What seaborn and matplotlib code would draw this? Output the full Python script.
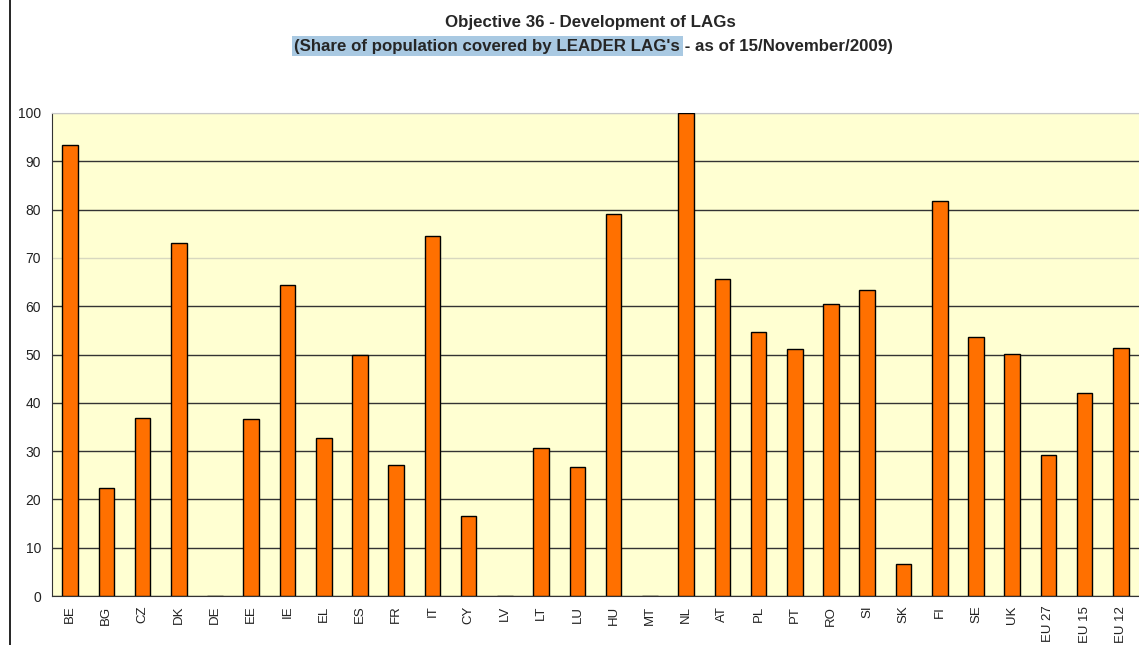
import matplotlib
matplotlib.use("Agg")
import matplotlib.pyplot as plt
import matplotlib.lines as mlines
import seaborn as sns
import numpy as np

# Dados
paises = ['BE', 'BG', 'CZ', 'DK', 'DE', 'EE', 'IE', 'EL', 'ES', 'FR', 'IT', 'CY', 'LV', 'LT', 'LU',
          'HU', 'MT', 'NL', 'AT', 'PL', 'PT', 'RO', 'SI', 'SK', 'FI', 'SE', 'UK', 'EU27', 'EU15', 'EU12']
cobertura = [93.4, 22.4, 36.9, 73.1, 0, 36.6, 64.4, 32.7, 49.9, 27.1, 74.5, 16.6, 0, 30.6, 26.7,
             79.1, 0, 100, 65.6, 54.7, 51.1, 60.5, 63.4, 6.6, 81.8, 53.6, 50.1, 29.2, 42.0, 51.3]
rotulos_x = ['BE', 'BG', 'CZ', 'DK', 'DE', 'EE', 'IE', 'EL', 'ES', 'FR', 'IT', 'CY', 'LV', 'LT', 'LU',
             'HU', 'MT', 'NL', 'AT', 'PL', 'PT', 'RO', 'SI', 'SK', 'FI', 'SE', 'UK', 'EU 27', 'EU 15', 'EU 12']
yticks = [0, 10, 20, 30, 40, 50, 60, 70, 80, 90, 100]

titulo1 = 'Objective 36 - Development of LAGs'
titulo2a = "(Share of population covered by LEADER LAG's"
titulo2b = ' - as of 15/November/2009)'

sns.set_style("white")
plt.rcParams['font.family'] = ['Liberation Sans', 'DejaVu Sans']

fig = plt.figure(figsize=(11.39, 6.45), dpi=100)
ax = fig.add_axes([52 / 1139, 49 / 645, 1087 / 1139, 483 / 645])
ax.set_facecolor('#FFFFD2')

sns.barplot(x=paises, y=cobertura, color='#FF7000', edgecolor='black', linewidth=1.0,
            width=0.43, saturation=1, ax=ax, zorder=3)

ax.set_ylim(0, 100)
ax.set_xlim(-0.5, 29.22)
ax.set_yticks(yticks)
ax.set_yticklabels([str(v) for v in yticks], fontsize=10, color='#222222')
ax.set_xticks(range(len(paises)))
ax.set_xticklabels(rotulos_x, rotation=90, fontsize=9.5, color='#222222')
ax.set_xticks(np.arange(-0.5, len(paises), 1), minor=True)
ax.tick_params(axis='x', which='major', length=0, pad=7)
ax.tick_params(axis='x', which='minor', length=5, width=1, color='#333333', direction='out')
ax.tick_params(axis='y', length=5, width=1, color='#333333', direction='out', pad=3)
ax.set_xlabel('')
ax.set_ylabel('')

# Linhas de grade
ax.yaxis.grid(True, color='#333333', linewidth=1.0, zorder=1)
ax.set_axisbelow(True)
grades = ax.get_ygridlines()
grades[7].set_color('#d8d8c0')
grades[10].set_color('#c8c8c8')

ax.spines['right'].set_visible(False)
ax.spines['top'].set_color('#c8c8c8')
ax.spines['left'].set_color('#333333')
ax.spines['bottom'].set_color('#333333')

# Borda esquerda
fig.add_artist(mlines.Line2D([10 / 1139, 10 / 1139], [0, 1], color='black', linewidth=1.2))

# Título
fig.text(590 / 1139, 1 - 23 / 645, titulo1, ha='center', va='center', fontsize=12.2, fontweight='bold')
xm = 680 / 1139
fig.text(xm, 1 - 46 / 645, titulo2a, ha='right', va='center', fontsize=12.2, fontweight='bold',
         bbox=dict(boxstyle='square,pad=0.15', facecolor='#A9C9E2', edgecolor='none'))
fig.text(xm, 1 - 46 / 645, titulo2b, ha='left', va='center', fontsize=12.2, fontweight='bold')

plt.savefig('out.png', dpi=100)
